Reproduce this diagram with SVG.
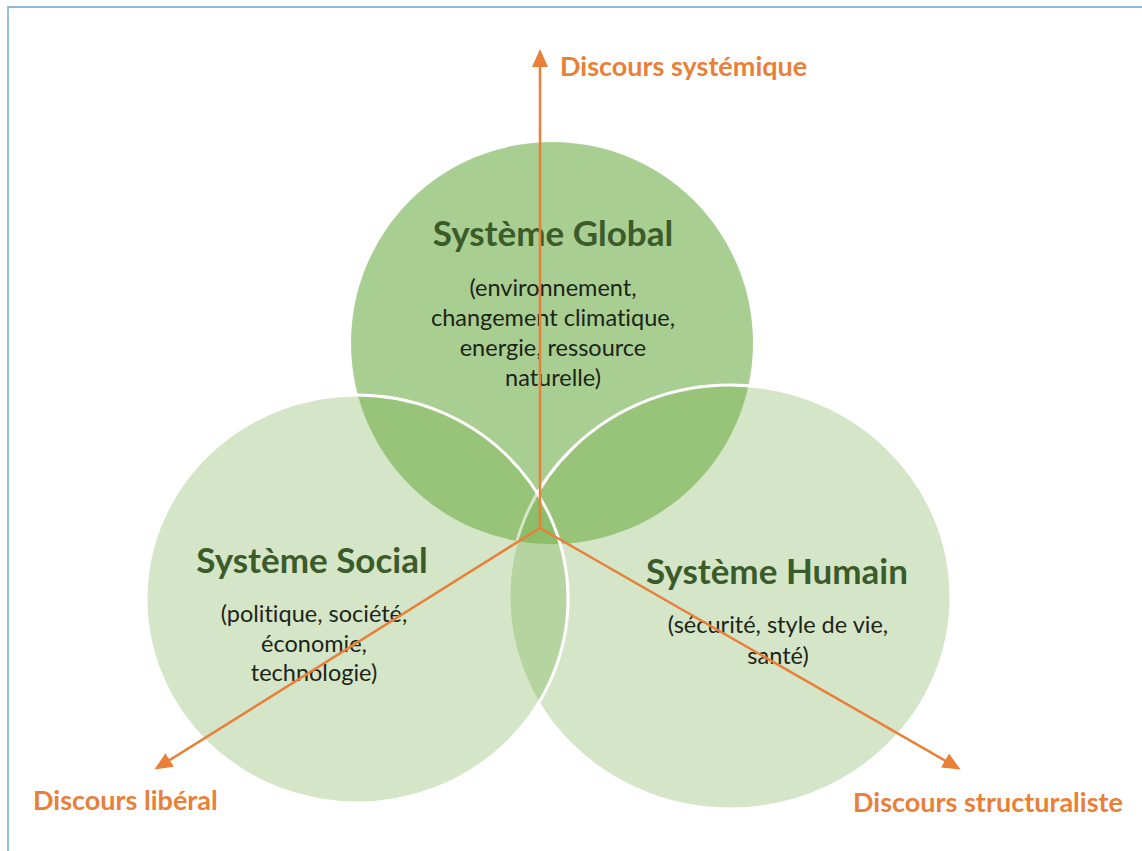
<svg xmlns="http://www.w3.org/2000/svg" width="1142" height="851" viewBox="0 0 1142 851">
  <style>
    text { font-variant-ligatures: none; }
    .title { font-family: "Lato", "Open Sans", "Liberation Sans", sans-serif; font-weight: bold; font-size: 35px; fill: #3b5b2a; text-anchor: middle; }
    .sub { font-family: "Lato", "Open Sans", "Liberation Sans", sans-serif; font-size: 23.5px; fill: #1c2418; text-anchor: middle; }
    .lbl { font-family: "Lato", "Open Sans", "Liberation Sans", sans-serif; font-weight: bold; font-size: 27px; fill: #e8803a; }
    .axis { stroke: #e8803a; stroke-width: 2.5; fill: none; marker-end: url(#ah); }
  </style>
  <defs>
    <marker id="ah" markerUnits="userSpaceOnUse" markerWidth="18" markerHeight="16" refX="15" refY="8" orient="auto">
      <path d="M0,0 L18,8 L0,16 Z" fill="#e8803a"/>
    </marker>
  </defs>
  <rect x="0" y="0" width="1142" height="851" fill="#ffffff"/>
  <path d="M8,851 L8,7 L1142,7" fill="none" stroke="#8fb6e0" stroke-width="1.8"/>

  <g id="node-global">
    <circle cx="552" cy="343" r="201" fill="#70ad47" fill-opacity="0.6"/>
    <text class="title" x="553" y="246">Système Global</text>
    <text class="sub" x="553" y="296">(environnement,</text>
    <text class="sub" x="553" y="326">changement climatique,</text>
    <text class="sub" x="553" y="356">energie, ressource</text>
    <text class="sub" x="553" y="386">naturelle)</text>
  </g>

  <g id="node-humain">
    <ellipse cx="730" cy="597" rx="221" ry="212" fill="#70ad47" fill-opacity="0.3" stroke="#ffffff" stroke-width="3"/>
    <text class="title" x="777" y="584">Système Humain</text>
    <text class="sub" x="778" y="633">(sécurité, style de vie,</text>
    <text class="sub" x="778" y="664">santé)</text>
  </g>

  <g id="node-social">
    <ellipse cx="357" cy="599" rx="211" ry="204" fill="#70ad47" fill-opacity="0.3" stroke="#ffffff" stroke-width="3"/>
    <text class="title" x="312" y="573">Système Social</text>
    <text class="sub" x="314" y="622">(politique, société,</text>
    <text class="sub" x="314" y="652">économie,</text>
    <text class="sub" x="314" y="681">technologie)</text>
  </g>

  <g id="connectors">
    <line class="axis" x1="540" y1="528" x2="540" y2="52"/>
    <line class="axis" x1="540" y1="528" x2="157" y2="768"/>
    <line class="axis" x1="540" y1="528" x2="958" y2="768"/>
    <text class="lbl" x="560" y="76">Discours systémique</text>
    <text class="lbl" x="33" y="810">Discours libéral</text>
    <text class="lbl" x="853" y="812">Discours structuraliste</text>
  </g>
</svg>
